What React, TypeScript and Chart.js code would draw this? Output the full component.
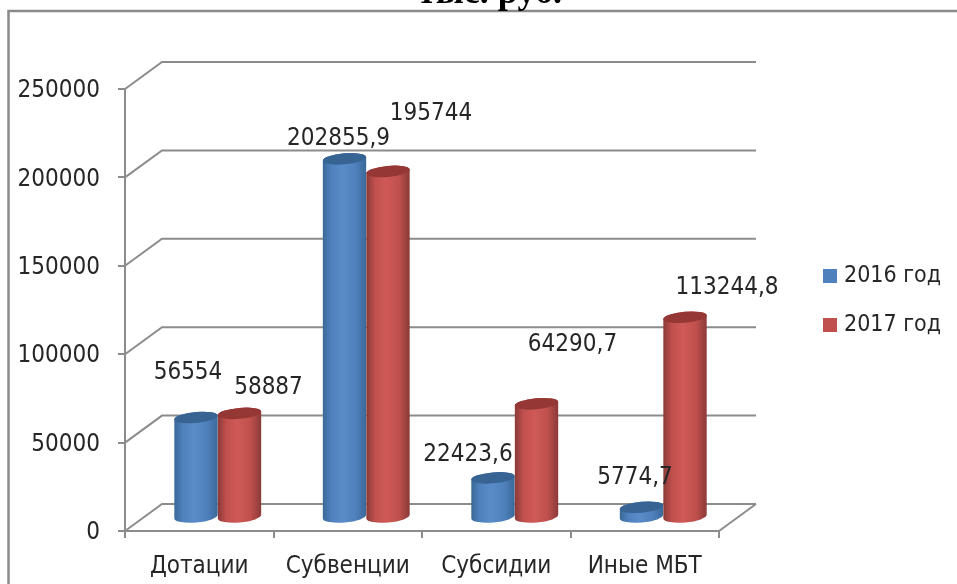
import React, { useEffect, useRef } from "react";
import { Chart, registerables } from "chart.js";

Chart.register(...registerables);

const categories = ["Дотации", "Субвенции", "Субсидии", "Иные МБТ"];
const seriesNames = ["2016 год", "2017 год"];
const values2016 = [56554, 202855.9, 22423.6, 5774.7];
const values2017 = [58887, 195744, 64290.7, 113244.8];
const titleText = "тыс. руб.";

const FONT = "'DejaVu Sans Condensed', 'DejaVu Sans', sans-serif";
const FONT_SIZE = 24;
const LEGEND_SIZE = 23;
const TEXT = "#262626";
const LINE = "#8c8c8c";
const DEPTH_X = 37;
const DEPTH_Y = 27;

const palette = [
  { edge: "#3a6898", mid: "#5a8cc9", body: "#4f81bd", top: "#386494" },
  { edge: "#8a3a38", mid: "#cf5a57", body: "#c0504d", top: "#953735" },
];

// label offset from the centre of each cylinder top, per series and category
const labelShift = [
  [[-8, -45], [-6, -20], [-25, -23], [-6.5, -30]],
  [[29, -26], [43, -58], [36, -59], [42, -30]],
];

const formatValue = (v: number) => String(v).replace(".", ",");

const scene = {
  id: "scene",
  beforeDraw(chart: any) {
    const { ctx, chartArea: a, scales } = chart;
    ctx.save();
    // outer frame
    ctx.strokeStyle = "#8a8a8a";
    ctx.lineWidth = 2.5;
    ctx.beginPath();
    ctx.moveTo(8.5, 584);
    ctx.lineTo(8.5, 11);
    ctx.lineTo(957, 11);
    ctx.stroke();
    // clipped title
    ctx.fillStyle = "#000";
    ctx.font = "bold 36px 'Liberation Serif', serif";
    ctx.textAlign = "center";
    ctx.textBaseline = "alphabetic";
    ctx.fillText(titleText, 490, 3);
    // 3D walls
    ctx.strokeStyle = LINE;
    ctx.lineWidth = 2;
    scales.y.ticks.forEach((t: any) => {
      const y = scales.y.getPixelForValue(t.value);
      ctx.beginPath();
      ctx.moveTo(a.left, y);
      ctx.lineTo(a.left + DEPTH_X, y - DEPTH_Y);
      ctx.lineTo(a.right + DEPTH_X, y - DEPTH_Y);
      ctx.stroke();
    });
    ctx.beginPath();
    ctx.moveTo(a.right, a.bottom);
    ctx.lineTo(a.right + DEPTH_X, a.bottom - DEPTH_Y);
    ctx.stroke();
    ctx.restore();
    // legend placement
    const lg = chart.legend;
    lg.left = 801.5;
    lg.top = 238.5;
    lg.right = 957;
    lg.bottom = 450;
    lg.width = lg.right - lg.left;
    lg.height = lg.bottom - lg.top;
  },
  beforeDatasetDraw() {
    return false;
  },
  afterDatasetsDraw(chart: any) {
    const { ctx } = chart;
    const dx = DEPTH_X / 2;
    const dy = DEPTH_Y / 2;
    const tilt = (-5 * Math.PI) / 180;
    categories.forEach((_, c) => {
      [0, 1].forEach((s) => {
        const bar = chart.getDatasetMeta(s).data[c] as any;
        const p = palette[s];
        const cx = bar.x + dx;
        const rx = bar.width / 2;
        const topY = bar.y - dy;
        const baseY = bar.base - dy;
        ctx.save();
        const g = ctx.createLinearGradient(cx - rx, 0, cx + rx, 0);
        g.addColorStop(0, p.edge);
        g.addColorStop(0.2, p.body);
        g.addColorStop(0.45, p.mid);
        g.addColorStop(0.75, p.body);
        g.addColorStop(1, p.edge);
        ctx.fillStyle = g;
        ctx.beginPath();
        ctx.ellipse(cx, baseY, rx, 6, tilt, 0, Math.PI);
        ctx.ellipse(cx, topY, rx, 5.5, tilt, Math.PI, 2 * Math.PI);
        ctx.closePath();
        ctx.fill();
        ctx.fillStyle = p.top;
        ctx.beginPath();
        ctx.ellipse(cx, topY, rx, 5.5, tilt, 0, 2 * Math.PI);
        ctx.fill();
        ctx.restore();
      });
    });
    ctx.save();
    ctx.fillStyle = TEXT;
    ctx.font = `${FONT_SIZE}px ${FONT}`;
    ctx.textAlign = "center";
    ctx.textBaseline = "middle";
    [0, 1].forEach((s) => {
      chart.data.datasets[s].data.forEach((v: number, c: number) => {
        const bar = chart.getDatasetMeta(s).data[c] as any;
        const [sx, sy] = labelShift[s][c];
        ctx.fillText(formatValue(v), bar.x + dx + sx, bar.y - dy + sy);
      });
    });
    ctx.restore();
  },
};

export default function App() {
  const ref = useRef<HTMLCanvasElement>(null);
  useEffect(() => {
    document.body.style.margin = "0";
    document.body.style.background = "#fff";
    const chart = new Chart(ref.current as HTMLCanvasElement, {
      type: "bar",
      data: {
        labels: categories,
        datasets: [
          { label: seriesNames[0], data: values2016, backgroundColor: palette[0].body, borderColor: palette[0].body, borderWidth: 9 },
          { label: seriesNames[1], data: values2017, backgroundColor: palette[1].body, borderColor: palette[1].body, borderWidth: 9 },
        ],
      },
      plugins: [scene],
      options: {
        responsive: false,
        animation: false,
        devicePixelRatio: 1,
        layout: { padding: { left: 0, top: 89, right: 238, bottom: 0 } },
        datasets: { bar: { categoryPercentage: 0.586, barPercentage: 1 } },
        scales: {
          x: {
            afterFit: (s: any) => { s.height = 53; },
            grid: { drawOnChartArea: false, tickLength: 7, color: LINE, lineWidth: 2 },
            border: { color: LINE, width: 2 },
            ticks: { color: TEXT, font: { family: FONT, size: FONT_SIZE }, padding: 14, maxRotation: 0, autoSkip: false },
          },
          y: {
            min: 0,
            max: 250000,
            afterFit: (s: any) => { s.width = 125; },
            grid: { drawOnChartArea: false, tickLength: 7, color: LINE, lineWidth: 2 },
            border: { color: LINE, width: 2 },
            ticks: {
              stepSize: 50000,
              color: TEXT,
              font: { family: FONT, size: FONT_SIZE },
              padding: 18,
              labelOffset: 2,
              callback: (v: any) => String(v),
            },
          },
        },
        plugins: {
          title: { display: false },
          tooltip: { enabled: false },
          legend: {
            display: true,
            position: "chartArea",
            align: "start",
            labels: {
              boxWidth: 5,
              boxHeight: 5,
              padding: 26,
              color: TEXT,
              font: { family: FONT, size: LEGEND_SIZE },
            },
          },
        },
      } as any,
    });
    return () => chart.destroy();
  }, []);
  return <canvas ref={ref} width={957} height={584} style={{ display: "block" }} />;
}
